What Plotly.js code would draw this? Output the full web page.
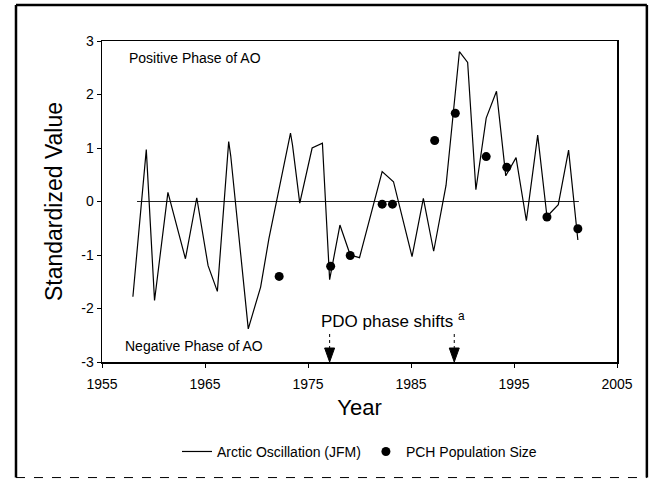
<!DOCTYPE html>
<html>
<head>
<meta charset="utf-8">
<script src="https://cdn.plot.ly/plotly-3.0.1.min.js"></script>
<style>
html,body{margin:0;padding:0;background:#fff;}
#chart{width:655px;height:480px;}
</style>
</head>
<body>
<div id="chart"></div>
<script>
// Arctic Oscillation (JFM) standardized values
var aoYears = [1958.0, 1959.1, 1959.3, 1960.1, 1961.4, 1963.1, 1964.2, 1965.3, 1966.2, 1967.3, 1967.5,
  1969.2, 1970.4, 1971.2, 1973.3, 1973.5, 1974.2, 1975.4, 1976.4, 1977.1, 1978.1, 1979.1, 1980.0,
  1982.2, 1983.3, 1985.1, 1986.2, 1987.2, 1988.4, 1989.7, 1990.5, 1991.3, 1992.3, 1993.3, 1994.1,
  1994.2, 1995.2, 1996.2, 1997.3, 1998.2, 1999.3, 2000.3, 2001.2];
var aoValues = [-1.78, 0.55, 0.97, -1.85, 0.17, -1.07, 0.07, -1.2, -1.68, 1.12, 0.85,
  -2.38, -1.6, -0.7, 1.28, 1.05, -0.03, 1.0, 1.09, -1.46, -0.44, -1.0, -1.05,
  0.56, 0.37, -1.03, 0.06, -0.93, 0.3, 2.8, 2.6, 0.22, 1.56, 2.06, 0.69,
  0.48, 0.82, -0.36, 1.24, -0.28, -0.06, 0.96, -0.72];

// PCH population size (standardized)
var pchYears = [1972.2, 1977.2, 1979.1, 1982.2, 1983.2, 1987.3, 1989.3, 1992.3, 1994.3, 1998.2, 2001.2];
var pchValues = [-1.40, -1.21, -1.01, -0.05, -0.05, 1.14, 1.65, 0.84, 0.64, -0.29, -0.51];

// PDO phase shift years
var pdoShiftYears = [1977.1, 1989.2];

// zero reference line extent
var zeroLineX = [1958.4, 2001.3];
var zeroLineY = [0, 0];

var xTicks = [1955, 1965, 1975, 1985, 1995, 2005];
var yTicks = [-3, -2, -1, 0, 1, 2, 3];

var FONT = 'Liberation Sans, Arial, sans-serif';

var traces = [
  {x: zeroLineX, y: zeroLineY, mode: 'lines', showlegend: false, hoverinfo: 'skip',
   line: {color: '#222', width: 1}},
  {x: aoYears, y: aoValues, mode: 'lines', name: 'Arctic Oscillation (JFM)',
   line: {color: '#000', width: 1.2}},
  {x: pchYears, y: pchValues, mode: 'markers', name: 'PCH Population Size',
   marker: {color: '#000', size: 9, symbol: 'circle'}}
];

var annotations = [
  {xref: 'paper', yref: 'paper', x: 0.048, y: 0.947, xanchor: 'left', yanchor: 'middle',
   text: 'Positive Phase of AO', showarrow: false, font: {size: 14, color: '#000', family: FONT}},
  {xref: 'paper', yref: 'paper', x: 0.041, y: 0.05, xanchor: 'left', yanchor: 'middle',
   text: 'Negative Phase of AO', showarrow: false, font: {size: 14, color: '#000', family: FONT}},
  {xref: 'paper', yref: 'paper', x: 0.565, y: 0.13, xanchor: 'center', yanchor: 'middle',
   text: 'PDO phase shifts <sup>a</sup>', showarrow: false, font: {size: 17, color: '#000', family: FONT}}
];

var shapes = [
  {type: 'line', xref: 'paper', yref: 'paper', x0: -0.167, x1: -0.167, y0: -0.36, y1: 1.112, line: {color: '#000', width: 2.5}},
  {type: 'line', xref: 'paper', yref: 'paper', x0: -0.167, x1: 1.058, y0: 1.112, y1: 1.112, line: {color: '#000', width: 2.5}},
  {type: 'line', xref: 'paper', yref: 'paper', x0: 1.058, x1: 1.058, y0: -0.36, y1: 1.112, line: {color: '#000', width: 2.5}},
  {type: 'line', xref: 'paper', yref: 'paper', x0: -0.167, x1: 1.058, y0: -0.36, y1: -0.36, line: {color: '#000', width: 1, dash: 'dash'}}
];
pdoShiftYears.forEach(function (yr) {
  shapes.push({type: 'line', xref: 'x', yref: 'y', xsizemode: 'pixel', ysizemode: 'pixel',
    xanchor: yr, yanchor: -3, x0: 0, x1: 0, y0: 13, y1: 28,
    line: {color: '#000', width: 1, dash: 'dot'}});
  shapes.push({type: 'path', xref: 'x', yref: 'y', xsizemode: 'pixel', ysizemode: 'pixel',
    xanchor: yr, yanchor: -3, path: 'M-5,14 L5,14 L0,0 Z',
    fillcolor: '#000', line: {color: '#000', width: 1}});
});

var layout = {
  width: 655, height: 480,
  margin: {l: 102, r: 38, t: 41, b: 118},
  paper_bgcolor: '#fff', plot_bgcolor: '#fff',
  font: {family: FONT, color: '#000', size: 14},
  showlegend: true,
  legend: {orientation: 'h', x: 0.5, xanchor: 'center', xref: 'paper', y: -0.28, yanchor: 'middle',
    font: {size: 14, family: FONT, color: '#000'}, bgcolor: 'rgba(0,0,0,0)'},
  xaxis: {range: [1955, 2005], tickvals: xTicks, ticktext: xTicks.map(String),
    ticks: 'outside', ticklen: 4, tickwidth: 1, tickcolor: '#000', ticklabelstandoff: 5,
    showline: true, linecolor: '#000', linewidth: 1.5, mirror: true,
    showgrid: false, zeroline: false, tickfont: {size: 14, family: FONT},
    title: {text: 'Year', font: {size: 22, family: FONT}, standoff: 8}},
  yaxis: {range: [-3, 3], tickvals: yTicks, ticktext: yTicks.map(String),
    ticks: 'outside', ticklen: 4, tickwidth: 1, tickcolor: '#000',
    showline: true, linecolor: '#000', linewidth: 1.5, mirror: true,
    showgrid: false, zeroline: false, tickfont: {size: 14, family: FONT},
    title: {text: 'Standardized Value', font: {size: 23, family: FONT}, standoff: 12}},
  annotations: annotations,
  shapes: shapes
};

Plotly.newPlot('chart', traces, layout, {displayModeBar: false, staticPlot: true});
</script>
</body>
</html>
